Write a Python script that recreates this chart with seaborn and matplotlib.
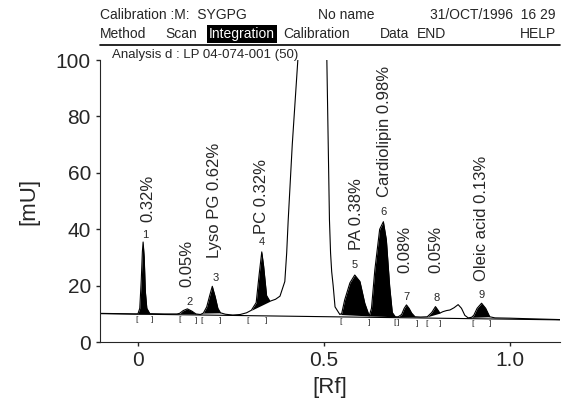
import numpy as np
import seaborn as sns
import matplotlib.pyplot as plt
from matplotlib.lines import Line2D

sns.set_style("ticks")
plt.rcParams['font.family'] = ['Liberation Sans', 'DejaVu Sans']

# chromatogram trace (Rf, mU)
rf = [-0.10, -0.05, -0.01, 0.000, 0.005, 0.009, 0.012, 0.014, 0.017, 0.020,
      0.024, 0.032, 0.070, 0.105, 0.112, 0.122, 0.133, 0.145, 0.156, 0.168,
      0.176, 0.185, 0.193, 0.200, 0.208, 0.215, 0.222, 0.235, 0.255, 0.275,
      0.292, 0.305, 0.318, 0.326, 0.333, 0.338, 0.346, 0.355, 0.370, 0.382,
      0.395, 0.400, 0.404, 0.415, 0.430, 0.468, 0.508, 0.515, 0.518, 0.521,
      0.525, 0.530, 0.543, 0.548, 0.556, 0.570, 0.583, 0.597, 0.610, 0.622,
      0.628, 0.637, 0.650, 0.660, 0.668, 0.677, 0.684, 0.692, 0.700, 0.709,
      0.716, 0.722, 0.729, 0.736, 0.745, 0.760, 0.778, 0.790, 0.800, 0.806,
      0.812, 0.820, 0.830, 0.839, 0.850, 0.861, 0.870, 0.879, 0.888, 0.897,
      0.903, 0.912, 0.924, 0.935, 0.946, 0.960, 1.000, 1.050, 1.135]
mu = [10.2, 10.1, 10.0, 10.0, 12.0, 22.0, 32.0, 35.5, 30.0, 18.0,
      12.0, 10.1, 10.0, 10.0, 10.2, 11.2, 11.8, 11.0, 10.0, 9.8,
      10.3, 12.5, 16.5, 19.8, 16.0, 12.0, 10.4, 9.9, 9.6, 9.8,
      10.4, 11.3, 14.0, 24.0, 32.0, 27.0, 16.5, 14.5, 15.2, 16.3,
      21.5, 31.6, 43.0, 70.0, 100.0, 125.0, 100.0, 43.4, 31.6, 25.0,
      20.0, 12.5, 9.8, 10.2, 15.0, 21.0, 23.8, 21.5, 13.8, 9.3,
      12.0, 25.6, 40.0, 42.7, 36.3, 19.7, 10.5, 9.0, 9.0, 9.8,
      12.0, 13.2, 12.0, 10.3, 9.0, 8.9, 9.0, 10.5, 12.6, 11.5,
      10.3, 10.8, 11.2, 11.4, 12.2, 13.3, 12.0, 9.5, 8.6, 8.8,
      9.5, 12.0, 13.8, 12.0, 9.0, 8.6, 8.5, 8.3, 8.0]

# integrated peaks: start / end Rf, number, apex
peak_start = [0.000, 0.112, 0.176, 0.305, 0.543, 0.622, 0.700, 0.778, 0.897]
peak_end = [0.032, 0.156, 0.222, 0.355, 0.622, 0.692, 0.745, 0.812, 0.946]
peak_num = ["1", "2", "3", "4", "5", "6", "7", "8", "9"]
peak_rf = [0.020, 0.140, 0.210, 0.333, 0.583, 0.660, 0.723, 0.803, 0.924]
peak_top = [36.3, 12.5, 21.0, 33.8, 25.6, 44.5, 14.3, 14.0, 15.0]

# percentage labels
label_text = ["0.32%", "0.05%", "Lyso PG 0.62%", "PC 0.32%", "PA 0.38%",
              "Cardiolipin 0.98%", "0.08%", "0.05%", "Oleic acid 0.13%"]
label_rf = [0.027, 0.131, 0.207, 0.333, 0.588, 0.664, 0.718, 0.800, 0.924]
label_y = [42.5, 19.6, 29.9, 38.5, 32.7, 51.6, 24.5, 24.5, 21.5]

# integration baseline and its markers
base_rf = [-0.10, 1.135]
base_mu = [10.1, 7.9]
bracket_open = [-0.004, 0.111, 0.172, 0.295, 0.546, 0.690, 0.776, 0.900]
bracket_close = [0.037, 0.156, 0.222, 0.346, 0.622, 0.700, 0.750, 0.812, 0.946]

fig = plt.figure(figsize=(5.68, 4.03), dpi=100)
ax = fig.add_axes([0.176, 0.151, 0.81, 0.70])

rf_a = np.array(rf)
mu_a = np.array(mu)

ax.plot(base_rf, base_mu, color="black", lw=0.8)
sns.lineplot(x=rf, y=mu, sort=False, estimator=None, color="black",
             lw=0.8, ax=ax)

for s, e in zip(peak_start, peak_end):
    m = (rf_a >= s - 1e-9) & (rf_a <= e + 1e-9)
    xs, ys = rf_a[m], mu_a[m]
    floor = np.interp(xs, [xs[0], xs[-1]], [ys[0], ys[-1]])
    ax.fill_between(xs, ys, floor, color="black", lw=0)

for x, n, t in zip(peak_rf, peak_num, peak_top):
    ax.text(x, t, n, ha="center", va="bottom", fontsize=8)

for x, t, y in zip(label_rf, label_text, label_y):
    ax.text(x, y, t, rotation=90, ha="center", va="bottom", fontsize=12)

for x in bracket_open:
    yb = np.interp(x, base_rf, base_mu) - 1.8
    ax.text(x, yb, "[", ha="center", va="center", fontsize=6)
for x in bracket_close:
    yb = np.interp(x, base_rf, base_mu) - 1.8
    ax.text(x, yb, "]", ha="center", va="center", fontsize=6)

ax.set_xlim(-0.102, 1.135)
ax.set_ylim(0, 100)
ax.set_xticks([0, 0.5, 1.0])
ax.set_xticklabels(["0", "0.5", "1.0"])
ax.set_yticks([0, 20, 40, 60, 80, 100])
ax.tick_params(labelsize=15, length=3, width=1)
ax.set_xlabel("[Rf]", fontsize=16, labelpad=5)
ax.set_ylabel("[mU]", fontsize=16, labelpad=12)
sns.despine(ax=ax)

# instrument header
fs = 10
fig.text(100 / 568, 1 - 15 / 403, "Calibration :M:  SYGPG", fontsize=fs, va="center")
fig.text(318 / 568, 1 - 15 / 403, "No name", fontsize=fs, va="center")
fig.text(556 / 568, 1 - 15 / 403, "31/OCT/1996  16 29", fontsize=fs, va="center", ha="right")
row2 = 1 - 34 / 403
fig.text(100 / 568, row2, "Method", fontsize=fs, va="center")
fig.text(165 / 568, row2, "Scan", fontsize=fs, va="center")
fig.text(209 / 568, row2, "Integration", fontsize=fs, va="center", color="white",
         bbox=dict(facecolor="black", edgecolor="none", pad=1.2))
fig.text(283 / 568, row2, "Calibration", fontsize=fs, va="center")
fig.text(380 / 568, row2, "Data", fontsize=fs, va="center")
fig.text(417 / 568, row2, "END", fontsize=fs, va="center")
fig.text(556 / 568, row2, "HELP", fontsize=fs, va="center", ha="right")
fig.add_artist(Line2D([100 / 568, 560 / 568], [1 - 45 / 403, 1 - 45 / 403],
                      color="black", lw=1.2))
fig.text(112 / 568, 1 - 55 / 403, "Analysis d : LP 04-074-001 (50)",
         fontsize=9.5, va="center")

fig.savefig("out.png", dpi=100)
